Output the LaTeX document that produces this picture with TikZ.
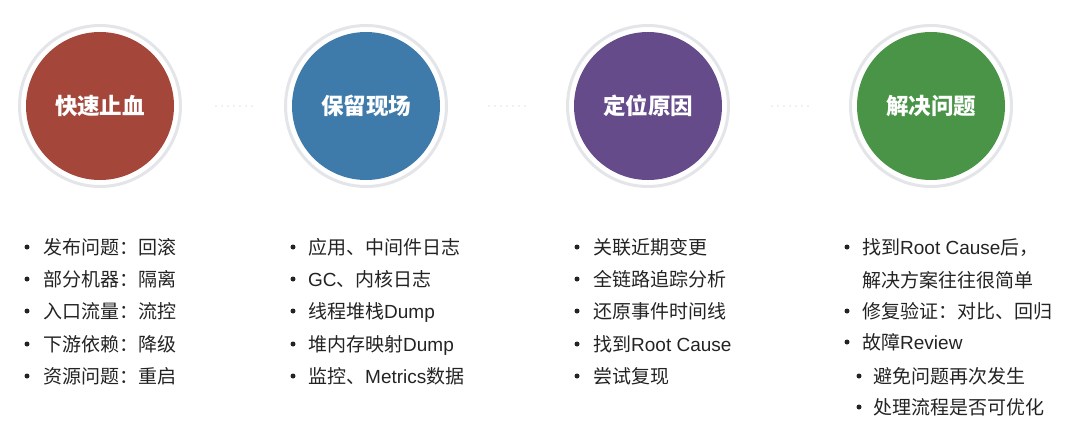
\documentclass[tikz,border=0pt]{standalone}
\usepackage{fontspec}
\setmainfont{Noto Sans CJK SC}
\newfontfamily\lat{Liberation Sans}
\definecolor{stopred}{HTML}{A4473A}
\definecolor{keepblue}{HTML}{3F7BAA}
\definecolor{findpurple}{HTML}{664B8B}
\definecolor{fixgreen}{HTML}{4A9447}
\definecolor{ringgray}{HTML}{E3E5E9}
\definecolor{dotgray}{HTML}{C4C4C4}
\definecolor{textgray}{HTML}{232323}
\begin{document}
\begin{tikzpicture} [x=1pt,y=-1pt,
		ring/.style={circle,draw=ringgray,line width=3pt,fill=white,minimum size=161pt,inner sep=0pt},
		stage/.style={circle,minimum size=148pt,inner sep=0pt,text=white,font=\fontsize{22.5}{22.5}\selectfont\bfseries},
		dots/.style={draw=dotgray,line width=1.4pt,line cap=round,dash pattern=on 0pt off 6pt},
		item/.style={anchor=base west,inner sep=0pt,text=textgray,font=\fontsize{19}{19}\selectfont},
		bul/.style={circle,fill=textgray,minimum size=5pt,inner sep=0pt}]
		\useasboundingbox (0,0) rectangle (1080,440);
		% four stages
		\node[ring] (r1) at (100,106) {};
		\node[ring] (r2) at (366,106) {};
		\node[ring] (r3) at (648,106) {};
		\node[ring] (r4) at (931,106) {};
		\node[stage,fill=stopred] (s1) at (r1) {快速止血};
		\node[stage,fill=keepblue] (s2) at (r2) {保留现场};
		\node[stage,fill=findpurple] (s3) at (r3) {定位原因};
		\node[stage,fill=fixgreen] (s4) at (r4) {解决问题};
		\draw[dots,shorten <=34pt,shorten >=32pt] (r1) -- (r2);
		\draw[dots,shorten <=41pt,shorten >=41pt] (r2) -- (r3);
		\draw[dots,shorten <=42pt,shorten >=41pt] (r3) -- (r4);
		% first column
		\node[bul] (b11) at (27,247) {}; \node[item] (t11) at (43,254) {发布问题：回滚};
		\node[bul] (b12) at (27,279) {}; \node[item] (t12) at (43,286) {部分机器：隔离};
		\node[bul] (b13) at (27,311) {}; \node[item] (t13) at (43,318) {入口流量：流控};
		\node[bul] (b14) at (27,344) {}; \node[item] (t14) at (43,351) {下游依赖：降级};
		\node[bul] (b15) at (27,376) {}; \node[item] (t15) at (43,383) {资源问题：重启};
		% second column
		\node[bul] (b21) at (293,247) {}; \node[item] (t21) at (308,254) {应用、中间件日志};
		\node[bul] (b22) at (293,279) {}; \node[item] (t22) at (308,286) {{\lat GC}、内核日志};
		\node[bul] (b23) at (293,311) {}; \node[item] (t23) at (308,318) {线程堆栈{\lat Dump}};
		\node[bul] (b24) at (293,344) {}; \node[item] (t24) at (308,351) {堆内存映射{\lat Dump}};
		\node[bul] (b25) at (293,376) {}; \node[item] (t25) at (308,383) {监控、{\lat Metrics}数据};
		% third column
		\node[bul] (b31) at (577,247) {}; \node[item] (t31) at (593,254) {关联近期变更};
		\node[bul] (b32) at (577,279) {}; \node[item] (t32) at (593,286) {全链路追踪分析};
		\node[bul] (b33) at (577,311) {}; \node[item] (t33) at (593,318) {还原事件时间线};
		\node[bul] (b34) at (577,344) {}; \node[item] (t34) at (593,351) {找到{\lat Root Cause}};
		\node[bul] (b35) at (577,376) {}; \node[item] (t35) at (593,383) {尝试复现};
		% fourth column
		\node[bul] (b41) at (847,247) {}; \node[item] (t41) at (862,254) {找到{\lat Root Cause}后，};
		\node[item] (t42) at (862,287) {解决方案往往很简单};
		\node[bul] (b43) at (847,311) {}; \node[item] (t43) at (862,318) {修复验证：对比、回归};
		\node[bul] (b44) at (847,342) {}; \node[item] (t44) at (862,349) {故障{\lat Review}};
		\node[bul] (b45) at (859,376) {}; \node[item] (t45) at (873,383) {避免问题再次发生};
		\node[bul] (b46) at (859,407) {}; \node[item] (t46) at (873,414) {处理流程是否可优化};
	\end{tikzpicture}
\end{document}
